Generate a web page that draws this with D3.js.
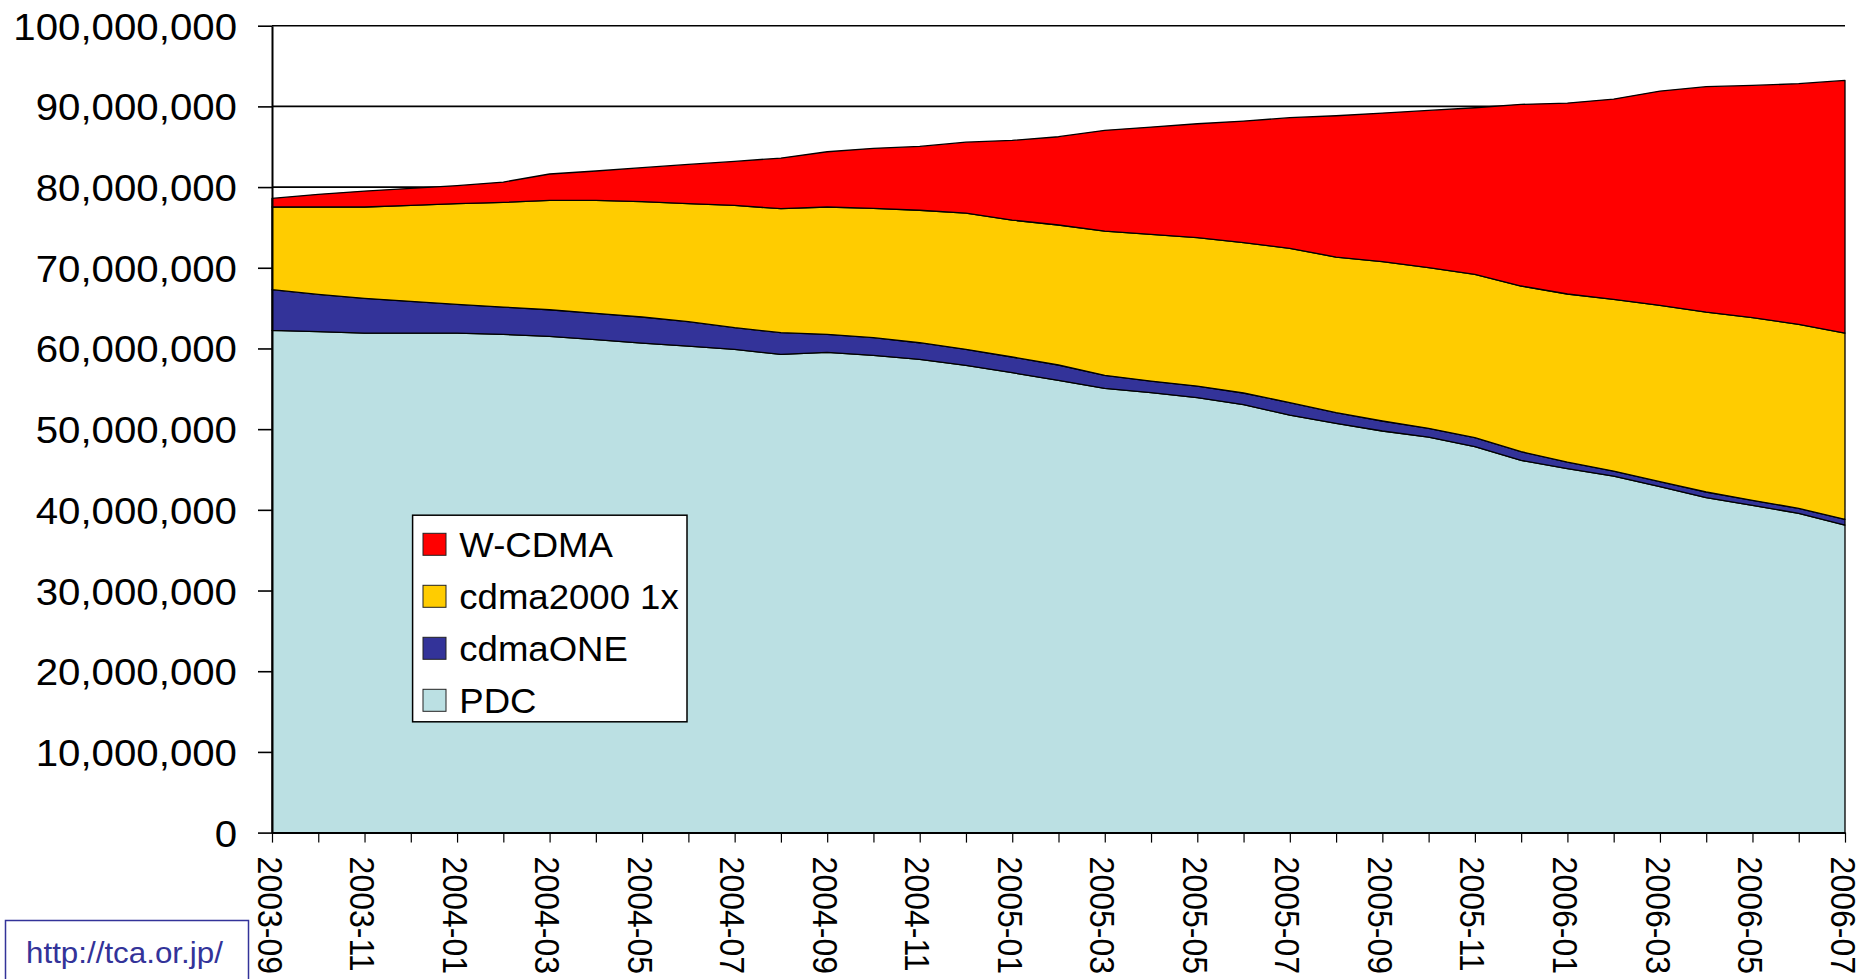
<!DOCTYPE html>
<html>
<head>
<meta charset="utf-8">
<script src="https://cdn.jsdelivr.net/npm/d3@7/dist/d3.min.js"></script>
<style>
  html, body { margin: 0; padding: 0; background: #fff; }
  svg { display: block; font-family: "Liberation Sans", Arial, sans-serif; }
</style>
</head>
<body>
<svg id="chart" width="1870" height="979"></svg>
<script>
// Monthly subscriber counts by air interface (Japan)
const months = [
  "2003-09","2003-10","2003-11","2003-12","2004-01","2004-02","2004-03","2004-04",
  "2004-05","2004-06","2004-07","2004-08","2004-09","2004-10","2004-11","2004-12",
  "2005-01","2005-02","2005-03","2005-04","2005-05","2005-06","2005-07","2005-08",
  "2005-09","2005-10","2005-11","2005-12","2006-01","2006-02","2006-03","2006-04",
  "2006-05","2006-06","2006-07"
];
const monthLabels = [
  "2003-09","2003-11","2004-01","2004-03","2004-05","2004-07","2004-09","2004-11",
  "2005-01","2005-03","2005-05","2005-07","2005-09","2005-11","2006-01","2006-03",
  "2006-05","2006-07"
];
const seriesNames = ["PDC", "cdmaONE", "cdma2000 1x", "W-CDMA"];
const seriesColors = ["#BBE0E3", "#333399", "#FFCC00", "#FF0000"];

const pdc = [62240000, 62080000, 61910000, 61910000, 61910000, 61750000, 61500000, 61090000,
  60670000, 60300000, 59880000, 59270000, 59520000, 59150000, 58650000, 57910000,
  57000000, 56050000, 55060000, 54520000, 53900000, 53030000, 51750000, 50720000,
  49770000, 49020000, 47830000, 46130000, 45100000, 44190000, 42870000, 41510000,
  40560000, 39570000, 38120000];
const cdmaOne = [5040000, 4620000, 4300000, 3930000, 3550000, 3380000, 3300000, 3260000,
  3230000, 3020000, 2690000, 2680000, 2230000, 2190000, 2060000, 1980000,
  1940000, 1900000, 1610000, 1440000, 1440000, 1450000, 1530000, 1320000,
  1240000, 1080000, 1110000, 1080000, 800000, 620000, 620000, 700000,
  620000, 610000, 700000];
const cdma2000 = [10250000, 10830000, 11320000, 11890000, 12480000, 12970000, 13550000, 14000000,
  14290000, 14620000, 15160000, 15370000, 15780000, 16020000, 16420000, 16870000,
  16970000, 17350000, 17880000, 18180000, 18390000, 18630000, 19120000, 19290000,
  19740000, 19910000, 20240000, 20530000, 20850000, 21280000, 21850000, 22300000,
  22630000, 22810000, 23090000];
const wcdma = [1070000, 1570000, 1980000, 2110000, 2230000, 2520000, 3270000, 3640000,
  4210000, 4870000, 5450000, 6280000, 6850000, 7440000, 7910000, 8800000,
  9880000, 10940000, 12480000, 13300000, 14120000, 15070000, 16200000, 17510000,
  18420000, 19490000, 20650000, 22510000, 23660000, 24820000, 26560000, 27930000,
  28790000, 29820000, 31310000];
const yTicks = [0, 10000000, 20000000, 30000000, 40000000, 50000000,
  60000000, 70000000, 80000000, 90000000, 100000000];

const rows = months.map((m, i) => ({
  month: m,
  "PDC": pdc[i],
  "cdmaONE": cdmaOne[i],
  "cdma2000 1x": cdma2000[i],
  "W-CDMA": wcdma[i]
}));

const svg = d3.select("#chart");
const plotLeft = 272, plotRight = 1845, plotTop = 25.7, plotBottom = 832.6;
const stretch = 1.073;   // glyphs are slightly wide in this layout

const x = d3.scalePoint().domain(months).range([plotLeft, plotRight]);
const y = d3.scaleLinear().domain([0, 100000000]).range([plotBottom, plotTop]);

// horizontal gridlines
svg.append("g").selectAll("line")
  .data(yTicks.filter(d => d > 0))
  .join("line")
  .attr("x1", plotLeft).attr("x2", plotRight)
  .attr("y1", d => y(d)).attr("y2", d => y(d))
  .attr("stroke", "#000").attr("stroke-width", 1.6);

// stacked areas
const stack = d3.stack().keys(seriesNames);
const layers = stack(rows);
const area = d3.area()
  .x(d => x(d.data.month))
  .y0(d => y(d[0]))
  .y1(d => y(d[1]));

svg.append("g").selectAll("path")
  .data(layers)
  .join("path")
  .attr("d", area)
  .attr("fill", (d, i) => seriesColors[i])
  .attr("stroke", "#000")
  .attr("stroke-width", 1.3)
  .attr("stroke-linejoin", "round");

// y axis
const yAxis = svg.append("g")
  .attr("transform", `translate(${plotLeft},0)`)
  .call(d3.axisLeft(y).tickValues(yTicks).tickFormat(d3.format(",")).tickSize(14).tickSizeOuter(0));
yAxis.select(".domain").attr("stroke", "#000").attr("stroke-width", 2);
yAxis.selectAll(".tick line").attr("stroke", "#000").attr("stroke-width", 1.6);
yAxis.selectAll(".tick text")
  .attr("x", -35 / stretch)
  .attr("dy", "0.36em")
  .attr("transform", `scale(${stretch},1)`)
  .attr("fill", "#000")
  .style("font-size", "37.5px")
  .style("font-family", "'Liberation Sans', Arial, sans-serif");

// x axis
const xAxis = svg.append("g")
  .attr("transform", `translate(0,${plotBottom})`)
  .call(d3.axisBottom(x).tickSize(10).tickSizeOuter(0).tickFormat(""));
xAxis.select(".domain").attr("stroke", "#000").attr("stroke-width", 2);
xAxis.selectAll(".tick line").attr("stroke", "#000").attr("stroke-width", 1.2);

svg.append("g").selectAll("text")
  .data(monthLabels)
  .join("text")
  .attr("transform", d => `translate(${x(d)},${plotBottom + 24}) scale(${stretch},1) rotate(90)`)
  .attr("dy", "0.42em")
  .attr("text-anchor", "start")
  .style("font-size", "32px")
  .attr("fill", "#000")
  .text(d => d);

// legend
const legend = svg.append("g");
legend.append("rect")
  .attr("x", 412.6).attr("y", 515.2)
  .attr("width", 274.4).attr("height", 206.6)
  .attr("fill", "#fff").attr("stroke", "#000").attr("stroke-width", 1.5);
const legendOrder = [3, 2, 1, 0];
const legendY = [544.3, 596.3, 648.3, 700.3];
legendOrder.forEach((si, k) => {
  legend.append("rect")
    .attr("x", 423).attr("y", legendY[k] - 11)
    .attr("width", 23).attr("height", 22)
    .attr("fill", seriesColors[si])
    .attr("stroke", "#222").attr("stroke-width", 1);
  legend.append("text")
    .attr("transform", `translate(459.3,${legendY[k]}) scale(1.03,1)`)
    .attr("dy", "0.36em")
    .style("font-size", "35.5px")
    .attr("fill", "#000")
    .text(seriesNames[si]);
});

// source box
const src = svg.append("g");
src.append("rect")
  .attr("x", 5.5).attr("y", 920.5)
  .attr("width", 243).attr("height", 70)
  .attr("fill", "#fff").attr("stroke", "#333399").attr("stroke-width", 1.5);
src.append("text")
  .attr("transform", `translate(26,963) scale(1.045,1)`)
  .style("font-size", "30px")
  .attr("fill", "#333399")
  .text("http://tca.or.jp/");
</script>
</body>
</html>
